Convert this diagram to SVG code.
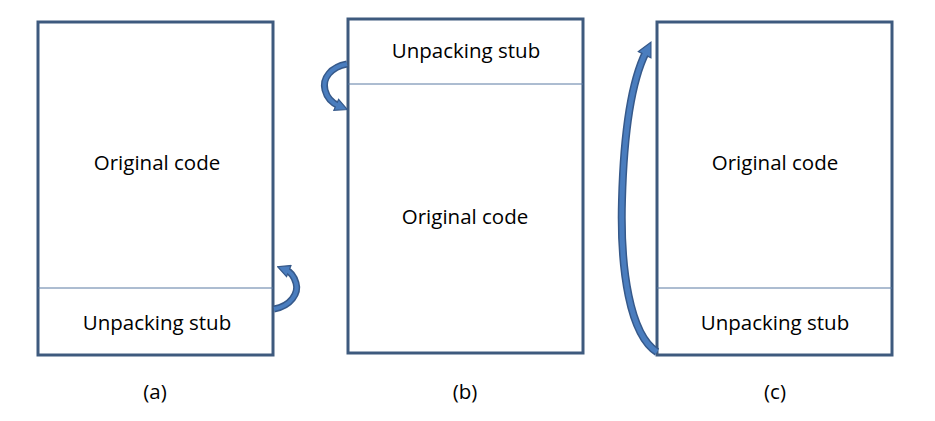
<svg xmlns="http://www.w3.org/2000/svg" width="935" height="421" viewBox="0 0 935 421">
<style>
.box{fill:#fff;stroke:#3E5A7E;stroke-width:3}
.div{stroke:#5A7BA3;stroke-width:1}
text{font-family:"Open Sans","Liberation Sans",sans-serif;font-size:20.5px;fill:#000;text-anchor:middle}
.ao{fill:none;stroke:#36598A;stroke-width:7;stroke-linecap:butt}
.ai{fill:none;stroke:#4A7DBE;stroke-width:4;stroke-linecap:butt}
.co{fill:none;stroke:#36598A;stroke-width:8;stroke-linecap:butt}
.ci{fill:none;stroke:#4A7DBE;stroke-width:5;stroke-linecap:butt}
</style>
<defs>
<marker id="ah" markerUnits="userSpaceOnUse" viewBox="0 0 14 14" refX="4" refY="7" markerWidth="14" markerHeight="14" orient="auto">
<path d="M1,1 L13,7 L1,13 Z" fill="#4A7DBE" stroke="#36598A" stroke-width="1.2"/>
</marker>
<marker id="ah2" markerUnits="userSpaceOnUse" viewBox="0 0 16 16" refX="4" refY="8" markerWidth="16" markerHeight="16" orient="auto">
<path d="M1,1 L15,8 L1,15 Z" fill="#4A7DBE" stroke="#36598A" stroke-width="1.2"/>
</marker>
</defs>
<g id="node-a">
<rect class="box" x="38" y="22" width="235" height="333"/>
<line class="div" x1="38" y1="288" x2="273" y2="288"/>
<text x="157" y="170">Original code</text>
<text x="157" y="330">Unpacking stub</text>
<text x="155" y="399">(a)</text>
</g>
<g id="node-b">
<rect class="box" x="348" y="19" width="235" height="334"/>
<line class="div" x1="348" y1="84" x2="583" y2="84"/>
<text x="466" y="58">Unpacking stub</text>
<text x="465" y="224">Original code</text>
<text x="465" y="399">(b)</text>
</g>
<g id="node-c">
<rect class="box" x="657" y="22" width="235" height="333"/>
<line class="div" x1="657" y1="288" x2="892" y2="288"/>
<text x="775" y="170">Original code</text>
<text x="775" y="330">Unpacking stub</text>
<text x="775" y="399">(c)</text>
</g>
<g id="connectors">
<path class="ao" d="M274,309 C291,306 299,293 296,283 C294,276 291,272 286,270" marker-end="url(#ah)"/>
<path class="ai" d="M274,309 C291,306 299,293 296,283 C294,276 291,272 286,270"/>
<path class="ao" d="M347,64 C331,67 322,78 325,90 C327,98 332,103 339,106" marker-end="url(#ah)"/>
<path class="ai" d="M347,64 C331,67 322,78 325,90 C327,98 332,103 339,106"/>
<path class="co" d="M657,352 C630,335 620,270 622,200 C624,125 632,80 646,52" marker-end="url(#ah2)"/>
<path class="ci" d="M657,352 C630,335 620,270 622,200 C624,125 632,80 646,52"/>
</g>
</svg>
